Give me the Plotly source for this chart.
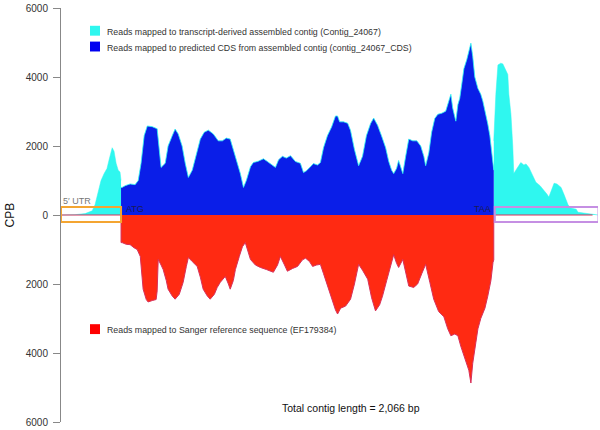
import plotly.graph_objects as go

# ---------------- data (bp position along contig, CPB) ----------------
contig_length = 2066
atg_pos = 231
taa_pos = 1665

# transcript-derived contig coverage in the UTRs (cyan)
utr5_pos = [0, 54, 93, 120, 131, 143, 154, 166, 177, 185, 197, 204, 212, 220, 227, 231]
utr5_cpb = [0, 10, 40, 120, 300, 700, 1000, 1200, 1350, 1600, 1950, 1850, 1500, 1300, 1250, 1000]

utr3_pos = [1665, 1673, 1681, 1692, 1700, 1712, 1719, 1723, 1731, 1738, 1742, 1750, 1758, 1769,
            1781, 1789, 1800, 1812, 1827, 1843, 1858, 1870, 1877, 1885, 1897, 1908, 1924, 1935,
            1951, 1962, 1982, 1989, 2020, 2055, 2066]
utr3_cpb = [2150, 3500, 4350, 4400, 4380, 4200, 4070, 3500, 2920, 2000, 1200, 1300, 1380, 1520,
            1450, 1480, 1380, 1200, 950, 850, 720, 600, 520, 700, 920, 900, 800, 600,
            290, 200, 170, 80, 50, 20, 0]

# predicted CDS coverage (blue)
cds_pos = [231, 235, 247, 266, 285, 297, 308, 320, 332, 351, 370, 378, 385, 401, 412, 428, 439,
           451, 466, 478, 490, 505, 520, 536, 551, 567, 586, 605, 621, 636, 651, 663, 675, 690,
           702, 713, 729, 740, 759, 779, 794, 810, 825, 837, 852, 867, 883, 902, 921, 933, 944,
           960, 971, 987, 998, 1010, 1025, 1041, 1056, 1064, 1072, 1087, 1103, 1114, 1129, 1145,
           1160, 1175, 1191, 1203, 1218, 1233, 1249, 1261, 1272, 1280, 1291, 1299, 1307, 1315,
           1326, 1338, 1353, 1369, 1384, 1396, 1403, 1415, 1426, 1438, 1450, 1465, 1480, 1492,
           1500, 1507, 1519, 1527, 1534, 1542, 1550, 1561, 1569, 1577, 1584, 1592, 1604, 1615,
           1623, 1635, 1642, 1650, 1658, 1662, 1665]
cds_cpb = [800, 800, 850, 900, 880, 1000, 1500, 2300, 2580, 2560, 2500, 1800, 1380, 1500, 2000,
           2300, 2490, 2350, 2000, 1500, 1090, 1300, 1700, 2200, 2400, 2460, 2350, 2150, 2150,
           2230, 2200, 1900, 1600, 1200, 800, 1000, 1400, 1520, 1560, 1630, 1550, 1450, 1380,
           1600, 1700, 1650, 1720, 1550, 1500, 1230, 1280, 1400, 1490, 1450, 1520, 1950, 2300,
           2550, 2870, 2870, 2700, 2700, 2660, 2450, 1900, 1430, 1700, 2300, 2650, 2810, 2600,
           2300, 1950, 1550, 1300, 1200, 1350, 1580, 1400, 1200, 1700, 2200, 2150, 2150, 2000,
           1700, 1430, 1800, 2400, 2800, 2920, 2950, 3010, 3300, 3500, 3100, 2720, 3200, 3380,
           3800, 4240, 4500, 4750, 4980, 4600, 4000, 3670, 3500, 3300, 2900, 2640, 2300, 1800,
           1490, 1300]

# Sanger reference sequence coverage (red, drawn downward)
sanger_pos = [0, 231, 231, 235, 251, 266, 281, 293, 305, 312, 316, 328, 335, 351, 366, 370, 374,
              385, 393, 405, 412, 428, 439, 455, 470, 482, 490, 505, 524, 536, 547, 563, 574,
              590, 601, 613, 632, 644, 651, 663, 671, 686, 698, 709, 721, 729, 748, 767, 790,
              817, 833, 844, 860, 871, 891, 910, 929, 941, 956, 968, 983, 998, 1010, 1025, 1041,
              1056, 1064, 1076, 1095, 1114, 1129, 1145, 1160, 1180, 1195, 1210, 1226, 1237, 1253,
              1268, 1280, 1291, 1299, 1315, 1326, 1338, 1357, 1372, 1388, 1403, 1419, 1434, 1453,
              1473, 1488, 1500, 1515, 1527, 1538, 1550, 1561, 1569, 1577, 1584, 1596, 1604, 1615,
              1631, 1642, 1654, 1662, 1665, 1665, 2045]
sanger_cpb = [0, 0, -800, -800, -850, -860, -950, -1000, -1200, -1700, -2150, -2450, -2520,
              -2480, -2450, -2200, -1290, -1450, -1580, -1900, -2150, -2350, -2440, -2300, -1950,
              -1500, -1230, -1350, -1490, -1800, -2150, -2350, -2440, -2300, -2100, -1950, -1780,
              -2000, -2150, -1900, -1580, -1200, -920, -800, -1100, -1290, -1450, -1520, -1580,
              -1660, -1450, -1200, -1450, -1630, -1550, -1490, -1300, -1250, -1350, -1490, -1450,
              -1430, -1700, -2060, -2400, -2750, -2870, -2700, -2640, -2440, -2000, -1430, -1600,
              -1860, -2400, -2780, -2600, -2350, -1900, -1500, -1150, -1400, -1520, -1290, -1700,
              -2060, -2100, -2000, -1700, -1430, -1950, -2440, -2800, -2950, -3300, -3500, -3450,
              -3500, -3800, -4070, -4300, -4500, -4870, -4300, -3700, -3300, -3000, -2700, -2350,
              -1900, -1380, -1300, 0, 0]

y_ticks = [-6000, -4000, -2000, 0, 2000, 4000, 6000]
y_tick_labels = ["6000", "4000", "2000", "0", "2000", "4000", "6000"]

legend_labels = [
    "Reads mapped to transcript-derived assembled contig (Contig_24067)",
    "Reads mapped to predicted CDS from assembled contig (contig_24067_CDS)",
    "Reads mapped to Sanger reference sequence (EF179384)",
]

# ---------------- styling ----------------
CYAN = "#2ff7ef"
BLUE = "#0a1ee8"
RED = "#ff2a12"
FONT = "Liberation Sans, Arial, sans-serif"

W, H = 600, 430
ML, MR, MT, MB = 61, 2, 5, 6
PW, PH = W - ML - MR, H - MT - MB


def px_x(px):
    return (px - ML) / PW


def px_y(py):
    return 1 - (py - MT) / PH


fig = go.Figure()

for xs, ys in [(utr5_pos, utr5_cpb), (utr3_pos, utr3_cpb)]:
    fig.add_trace(go.Scatter(x=xs, y=ys, mode="lines", fill="tozeroy",
                             line=dict(color=CYAN, width=0.5), fillcolor=CYAN,
                             showlegend=False, hoverinfo="skip"))

fig.add_trace(go.Scatter(x=cds_pos, y=cds_cpb, mode="lines", fill="tozeroy",
                         line=dict(color=CYAN, width=0.8), fillcolor=BLUE,
                         showlegend=False, hoverinfo="skip"))

fig.add_trace(go.Scatter(x=sanger_pos, y=sanger_cpb, mode="lines", fill="tozeroy",
                         line=dict(color="#d8305a", width=1), fillcolor=RED,
                         showlegend=False, hoverinfo="skip"))

# UTR boxes
fig.add_shape(type="rect", x0=0, x1=atg_pos, y0=-200, y1=230, xref="x", yref="y",
              line=dict(color="#f4a531", width=2), fillcolor="rgba(0,0,0,0)")
fig.add_shape(type="rect", x0=taa_pos + 4, x1=contig_length + 2, y0=-200, y1=230, xref="x", yref="y",
              line=dict(color="#c58fe3", width=2), fillcolor="rgba(0,0,0,0)")

# region labels
fig.add_annotation(x=0, y=420, xref="x", yref="y", text="5′ UTR", showarrow=False,
                   xanchor="left", yanchor="middle", font=dict(family=FONT, size=9, color="#777"))
fig.add_annotation(x=atg_pos + 10, y=170, xref="x", yref="y", text="ATG", showarrow=False,
                   xanchor="left", yanchor="middle", font=dict(family=FONT, size=9, color="#1b1b55"))
fig.add_annotation(x=taa_pos - 4, y=170, xref="x", yref="y", text="TAA", showarrow=False,
                   xanchor="right", yanchor="middle", font=dict(family=FONT, size=9, color="#1b1b55"))
fig.add_annotation(x=contig_length + 3, y=420, xref="x", yref="y", text="3′ UTR", showarrow=False,
                   xanchor="right", yanchor="middle", font=dict(family=FONT, size=9, color="#777"))

# custom legend
legend_rows = [(legend_labels[0], CYAN, 28), (legend_labels[1], "#0000f0", 44),
               (legend_labels[2], "#ff0000", 330)]
for label, col, cy in legend_rows:
    fig.add_shape(type="rect", xref="paper", yref="paper",
                  x0=px_x(90), x1=px_x(100), y0=px_y(cy + 5), y1=px_y(cy - 5),
                  line=dict(width=0), fillcolor=col)
    fig.add_annotation(x=px_x(105), y=px_y(cy + 1), xref="paper", yref="paper", text=label,
                       showarrow=False, xanchor="left", yanchor="middle",
                       font=dict(family=FONT, size=8.8, color="#333"))

fig.add_annotation(x=px_x(351), y=px_y(410), xref="paper", yref="paper",
                   text="Total contig length = 2,066 bp", showarrow=False,
                   xanchor="center", yanchor="middle", font=dict(family=FONT, size=10.5, color="#111"))

fig.add_annotation(x=px_x(10), y=px_y(215), xref="paper", yref="paper", text="CPB",
                   showarrow=False, textangle=-90, xanchor="center", yanchor="middle",
                   font=dict(family=FONT, size=12, color="#111"))

fig.update_layout(
    width=W, height=H, margin=dict(l=ML, r=MR, t=MT, b=MB),
    paper_bgcolor="white", plot_bgcolor="white", showlegend=False,
    xaxis=dict(range=[0, contig_length], visible=False, fixedrange=True),
    yaxis=dict(range=[-6000, 6000], tickvals=y_ticks, ticktext=y_tick_labels,
               showline=True, linecolor="#888", linewidth=1, ticks="outside",
               ticklen=7, tickcolor="#888", showgrid=False, zeroline=False,
               ticklabeloverflow="allow", ticklabelstandoff=3,
               tickfont=dict(family=FONT, size=10, color="#333"), fixedrange=True),
)

fig.write_html("out.html", config={"displayModeBar": False},
               post_script="document.body.style.margin='0';document.body.style.overflow='hidden';")
